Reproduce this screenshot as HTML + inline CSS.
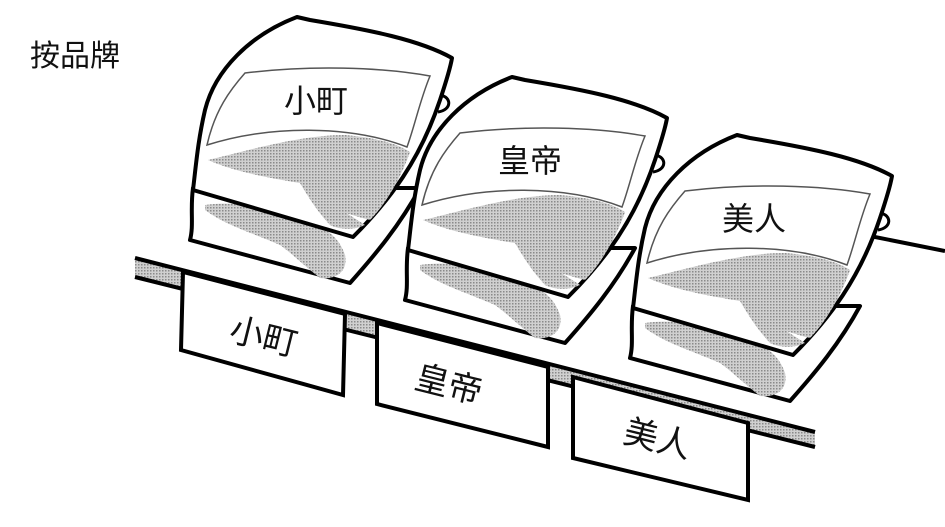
<!DOCTYPE html>
<html><head><meta charset="utf-8"><style>
html,body{margin:0;padding:0;background:#fff;width:945px;height:527px;overflow:hidden}
svg{display:block}
text{font-family:"Liberation Sans","Noto Sans CJK SC",sans-serif;fill:#111}
</style></head><body>
<svg width="945" height="527" viewBox="0 0 945 527" xmlns="http://www.w3.org/2000/svg">
<defs>
<pattern id="dots" width="3" height="3" patternUnits="userSpaceOnUse">
<rect width="3" height="3" fill="#d0d0d0"/><rect width="1.5" height="1.5" fill="#8a8a8a"/>
</pattern>
<g id="bag">
<path d="M193,188 C190,210 194,225 190,240 L350,283 C375,255 400,225 420,188 Z" fill="#fff" stroke="#000" stroke-width="4" stroke-linejoin="round"/>
<path d="M205,205 C240,200 280,210 310,222 C330,230 340,240 345,255 C348,270 338,280 320,278 C300,262 290,252 280,245 C250,232 225,225 205,210Z" fill="url(#dots)"/>
<path d="M297,17 C250,35 215,70 205,110 C198,140 196,165 193,190 L353,237 C390,200 420,160 440,100 C445,85 450,70 452,58 C420,40 370,30 310,20 Z" fill="#fff" stroke="#000" stroke-width="4" stroke-linejoin="round"/>
<path d="M208,160 C250,150 300,135 345,135 C380,138 400,145 410,152 C400,180 385,205 370,220 C350,215 330,208 315,200 C310,196 305,188 300,183 C270,178 235,172 208,160Z" fill="url(#dots)"/>
<path d="M300,183 C310,200 318,212 330,225 C340,230 355,230 365,225" fill="url(#dots)"/>
<path d="M207,145 C215,110 230,90 245,73 C310,65 380,67 430,76 C420,100 415,125 407,147 C350,125 270,125 207,145 Z" fill="#fff" stroke="#555" stroke-width="1.5"/>
<path d="M440,95 C452,97 452,110 438,112" fill="none" stroke="#000" stroke-width="3"/>
</g>
</defs>
<text x="30" y="66" font-size="30">按品牌</text>
<line x1="860" y1="234" x2="945" y2="251" stroke="#000" stroke-width="4"/>
<polygon points="135,258 815,432 815,447 135,277" fill="url(#dots)"/>
<line x1="135" y1="258" x2="815" y2="432" stroke="#000" stroke-width="4"/>
<line x1="135" y1="277" x2="815" y2="447" stroke="#000" stroke-width="4"/>
<use href="#bag"/>
<use href="#bag" transform="translate(215,60)"/>
<use href="#bag" transform="translate(440,118)"/>
<text x="284" y="112" font-size="32">小町</text>
<text x="498" y="172" font-size="32">皇帝</text>
<text x="722" y="230" font-size="32">美人</text>
<polygon points="183,272 345,314 343,395 181,350" fill="#fff" stroke="#000" stroke-width="4"/>
<polygon points="377,323 548,367 548,447 377,404" fill="#fff" stroke="#000" stroke-width="4"/>
<polygon points="573,377 748,423 748,500 573,458" fill="#fff" stroke="#000" stroke-width="4"/>
<text x="230" y="348" font-size="34" transform="rotate(14 262 335)">小町</text>
<text x="415" y="396" font-size="34" transform="rotate(14 448 383)">皇帝</text>
<text x="624" y="450" font-size="34" transform="rotate(14 656 437)">美人</text>
</svg>
</body></html>
